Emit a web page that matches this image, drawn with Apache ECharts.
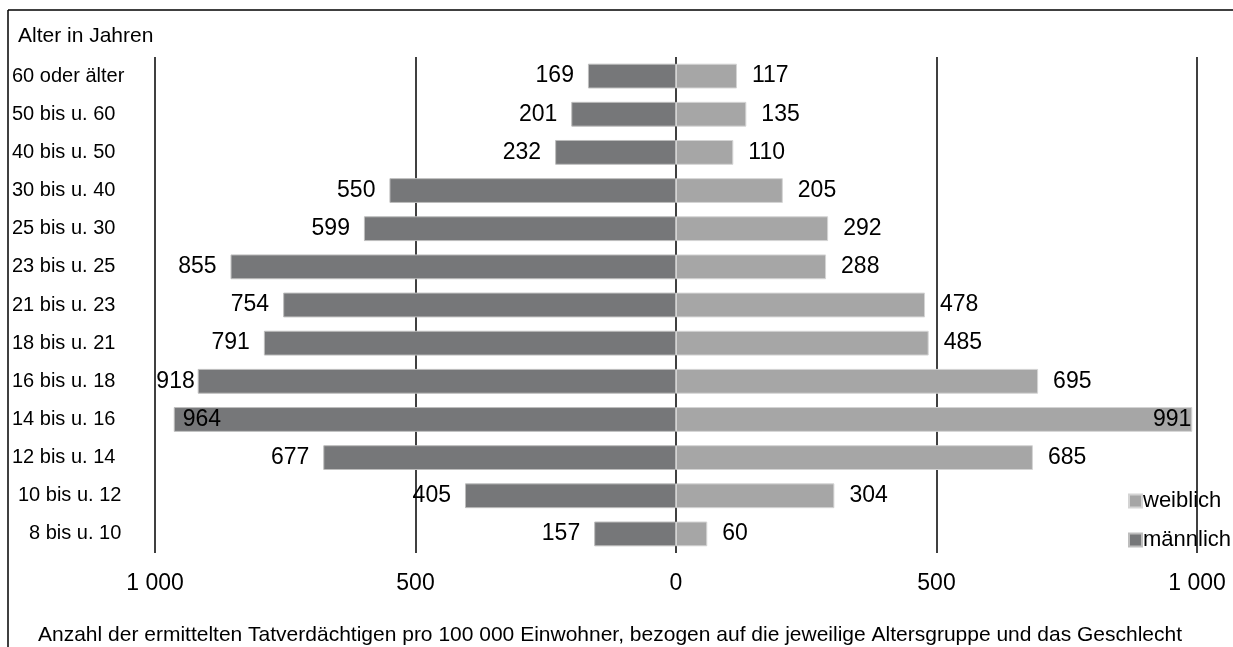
<!DOCTYPE html>
<html>
<head>
<meta charset="utf-8">
<script src="https://cdn.jsdelivr.net/npm/echarts@6/dist/echarts.min.js"></script>
<style>
html,body{margin:0;padding:0;background:#fff;}
#c{width:1233px;height:647px;}
</style>
</head>
<body>
<div id="c"></div>
<script>
const categories = ["60 oder älter","50 bis u. 60","40 bis u. 50","30 bis u. 40","25 bis u. 30","23 bis u. 25","21 bis u. 23","18 bis u. 21","16 bis u. 18","14 bis u. 16","12 bis u. 14","10 bis u. 12","8 bis u. 10"];
const maleValues = [169,201,232,550,599,855,754,791,918,964,677,405,157];
const femaleValues = [117,135,110,205,292,288,478,485,695,991,685,304,60];
const xTicks = [-1000,-500,0,500,1000];
const seriesNames = ["weiblich","männlich"];
const axisTitle = "Alter in Jahren";
const footnote = "Anzahl der ermittelten Tatverdächtigen pro 100 000 Einwohner, bezogen auf die jeweilige Altersgruppe und das Geschlecht";

const FONT = "Liberation Sans, Arial, sans-serif";
const chart = echarts.init(document.getElementById('c'));

function fmtNum(v){
  v = Math.abs(v);
  return v >= 1000 ? String(v).replace(/(\d)(?=(\d{3})$)/, '$1 ') : String(v);
}

const maleData = maleValues.map(v => {
  const d = {value: -v};
  if (v > 950) d.label = {position: 'insideLeft', distance: 9};
  else if (v > 880) d.label = {distance: 3};
  return d;
});
const femaleData = femaleValues.map(v => {
  const d = {value: v};
  if (v > 950) d.label = {position: 'insideRight', distance: 1};
  return d;
});

const option = {
  backgroundColor: '#fff',
  animation: false,
  textStyle: {fontFamily: FONT},
  title: [
    {text: axisTitle, left: 13, top: 21, textStyle: {fontFamily: FONT, fontSize: 21, fontWeight: 'normal', color: '#000'}},
    {text: footnote, left: 33, top: 620, textStyle: {fontFamily: FONT, fontSize: 21, fontWeight: 'normal', color: '#000'}}
  ],
  legend: {
    orient: 'vertical',
    left: 1123,
    top: 485,
    itemWidth: 13,
    itemHeight: 13,
    itemGap: 17,
    icon: 'rect',
    data: seriesNames,
    textStyle: {fontFamily: FONT, fontSize: 22, color: '#000', padding: [0,0,0,-4]}
  },
  graphic: [
    {type: 'line', shape: {x1: 8, y1: 10, x2: 1233, y2: 10}, style: {stroke: '#000', lineWidth: 1.5}},
    {type: 'line', shape: {x1: 8, y1: 10, x2: 8, y2: 647}, style: {stroke: '#000', lineWidth: 1.5}}
  ],
  grid: {left: 155, right: 36, top: 57, bottom: 94, containLabel: false},
  xAxis: {
    type: 'value',
    min: xTicks[0],
    max: xTicks[xTicks.length - 1],
    interval: 500,
    axisLine: {show: false},
    axisTick: {show: false},
    axisLabel: {formatter: v => fmtNum(v), fontFamily: FONT, fontSize: 23, color: '#000', margin: 19},
    splitLine: {show: true, lineStyle: {color: '#000', width: 1.5}}
  },
  yAxis: {
    type: 'category',
    data: categories,
    inverse: true,
    axisLine: {show: false},
    axisTick: {show: false},
    axisLabel: {
      align: 'left',
      margin: 143,
      fontFamily: FONT,
      fontSize: 20,
      color: '#000',
      formatter: (v, i) => i === 11 ? '{a|' + v + '}' : (i === 12 ? '{b|' + v + '}' : v),
      rich: {
        a: {fontFamily: FONT, fontSize: 20, color: '#000', padding: [0,0,0,6]},
        b: {fontFamily: FONT, fontSize: 20, color: '#000', padding: [0,0,0,17]}
      }
    }
  },
  series: [
    {
      name: seriesNames[0],
      type: 'bar',
      stack: 'g',
      data: femaleData,
      barCategoryGap: '35%',
      itemStyle: {color: '#a6a6a6', borderColor: '#d4d4d4', borderWidth: 1},
      label: {show: true, position: 'right', distance: 15, formatter: p => fmtNum(p.value), fontFamily: FONT, fontSize: 23, color: '#000'}
    },
    {
      name: seriesNames[1],
      type: 'bar',
      stack: 'g',
      data: maleData,
      barCategoryGap: '35%',
      itemStyle: {color: '#767779', borderColor: '#bdbdbd', borderWidth: 1},
      label: {show: true, position: 'left', distance: 14, formatter: p => fmtNum(p.value), fontFamily: FONT, fontSize: 23, color: '#000'}
    }
  ]
};
chart.setOption(option);
</script>
</body>
</html>
